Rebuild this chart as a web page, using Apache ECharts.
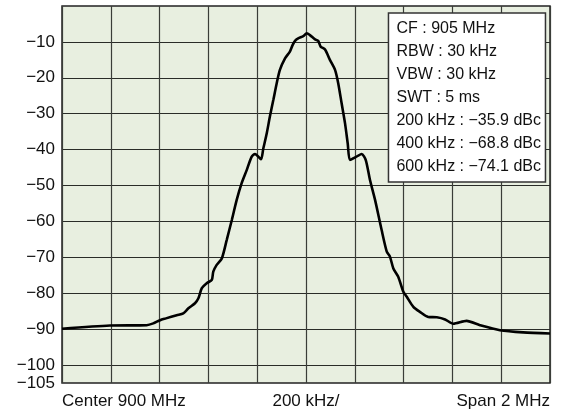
<!DOCTYPE html>
<html>
<head>
<meta charset="utf-8">
<script src="https://cdn.jsdelivr.net/npm/echarts@6/dist/echarts.min.js"></script>
<style>
    html, body {margin: 0; padding: 0; background: #fff;}
    #chart {width: 563px; height: 412px;}
</style>
</head>
<body>
<div id="chart"></div>
<script>
// offset from center frequency (kHz) and measured level (dB)
const freqKHz = [-1000, -803, -653, -626, -598, -574, -530, -503, -482, -455, -441, -427, -407, -386, -380,
    -366, -345, -325, -304, -284, -264, -243, -223, -209, -195, -184, -175, -161, -148, -134, -120, -107,
    -86, -66, -55, -45, -32, -11, 3, 16, 37, 50, 60, 78, 98, 119, 132, 146, 160, 171, 180, 201, 228, 245,
    262, 283, 310, 331, 344, 358, 378, 399, 413, 440, 467, 501, 536, 570, 604, 658, 713, 795, 890, 1000]
const levelDb = [-89.9, -89.0, -88.9, -88.4, -87.5, -87.0, -86.1, -85.6, -84.2, -82.8, -81.4, -78.6, -77.2, -76.3, -74.0,
    -72.1, -70.3, -65.2, -59.6, -54.0, -49.4, -45.7, -42.0, -41.2, -42.0, -42.7, -39.7, -35.5, -30.8, -26.2, -21.5, -17.8,
    -14.6, -12.7, -10.9, -9.7, -9.0, -8.4, -7.6, -8.1, -9.3, -9.7, -11.3, -12.1, -15.0, -17.8, -21.5, -27.1, -32.7, -38.3, -42.9, -42.2, -41.2, -42.9,
    -48.4, -54.0, -62.4, -68.4, -69.8, -73.1, -75.4, -79.6, -81.0, -83.8, -85.2, -86.6, -86.7, -87.3, -88.5, -87.7, -88.9, -90.3, -90.9, -91.2]

const yLabelValues = [-105, -100, -90, -80, -70, -60, -50, -40, -30, -20, -10]
const yGridValues = [-100, -90, -80, -70, -60, -50, -40, -30, -20, -10]
const xLabels = {'-1000': 'Center 900 MHz', '0': '200 kHz/', '1000': 'Span 2 MHz'}
const infoLines = ['CF : 905 MHz', 'RBW : 30 kHz', 'VBW : 30 kHz', 'SWT : 5 ms',
    '200 kHz : \u221235.9 dBc', '400 kHz : \u221268.8 dBc', '600 kHz : \u221274.1 dBc']

const font = 'Liberation Sans, Arial, Helvetica, sans-serif'
const myChart = echarts.init(document.getElementById('chart'))
const option = {
    animation: false,
    title: {
        text: infoLines.join('\n'),
        right: 17,
        top: 13,
        padding: [4, 5, 4, 8],
        backgroundColor: '#fff',
        borderColor: '#333',
        borderWidth: 1.5,
        textStyle: {fontFamily: font, fontSize: 16, fontWeight: 'normal', color: '#111', lineHeight: 23}
    },
    grid: {
        left: 62,
        right: 13,
        top: 6,
        bottom: 29,
        show: true,
        backgroundColor: '#e8efe0',
        borderColor: '#222',
        borderWidth: 1.5
    },
    xAxis: {
        type: 'value',
        min: -1000,
        max: 1000,
        interval: 200,
        axisLine: {show: false},
        axisTick: {show: false},
        splitLine: {lineStyle: {color: '#3a3d38', width: 1.2}},
        axisLabel: {
            margin: 10,
            fontFamily: font,
            fontSize: 17,
            color: '#111',
            showMinLabel: true,
            showMaxLabel: true,
            alignMinLabel: 'left',
            alignMaxLabel: 'right',
            formatter: function (value) {
                return xLabels[String(value)] || ''
            }
        }
    },
    yAxis: {
        type: 'value',
        min: -105,
        max: 0,
        axisLine: {show: false},
        axisTick: {show: false, customValues: yGridValues},
        splitLine: {lineStyle: {color: '#2a2c28', width: 1.2}},
        axisLabel: {
            customValues: yLabelValues,
            margin: 7,
            fontFamily: font,
            fontSize: 17,
            color: '#111',
            formatter: function (value) {
                return String(value).replace('-', '\u2212')
            }
        }
    },
    series: [{
        type: 'line',
        data: freqKHz.map((f, i) => [f, levelDb[i]]),
        smooth: 0.25,
        symbol: 'none',
        lineStyle: {color: '#000', width: 2.6}
    }]
}
myChart.setOption(option)
</script>
</body>
</html>
